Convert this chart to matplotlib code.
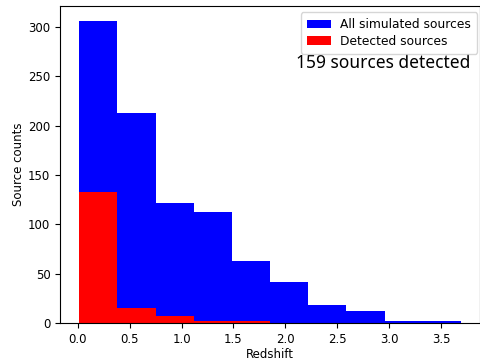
import matplotlib
matplotlib.use("Agg")
import matplotlib.pyplot as plt
import numpy as np

bin_edges = [0.015, 0.383, 0.750, 1.118, 1.485, 1.853, 2.220, 2.588, 2.955, 3.323, 3.690]
all_counts = [306, 213, 122, 113, 63, 42, 18, 12, 2, 2]
detected_counts = [133, 15, 7, 2, 2, 0, 0, 0, 0, 0]

edges = np.array(bin_edges)
centers = (edges[:-1] + edges[1:]) / 2

fig = plt.figure(figsize=(4.81, 3.61), dpi=100)
ax = fig.add_axes([0.125, 0.105, 0.873, 0.878])
ax.hist(centers, bins=edges, weights=all_counts, color="blue", label="All simulated sources")
ax.hist(centers, bins=edges, weights=detected_counts, color="red", label="Detected sources")
ax.set_xlabel("Redshift", fontsize=8.5, labelpad=1.5)
ax.set_ylabel("Source counts", fontsize=8.5, labelpad=2)
ax.tick_params(labelsize=8.5)
ax.legend(loc="upper right", fontsize=8.8, labelspacing=0.25, borderaxespad=0.25,
          borderpad=0.5, handlelength=2.0, handletextpad=0.7,
          bbox_to_anchor=(1.0, 0.99))
ax.text(0.77, 0.82, "159 sources detected", transform=ax.transAxes, ha="center", va="center",
        fontsize=12.5, family=["Noto Sans", "DejaVu Sans"])
fig.savefig("out.png", dpi=100)
